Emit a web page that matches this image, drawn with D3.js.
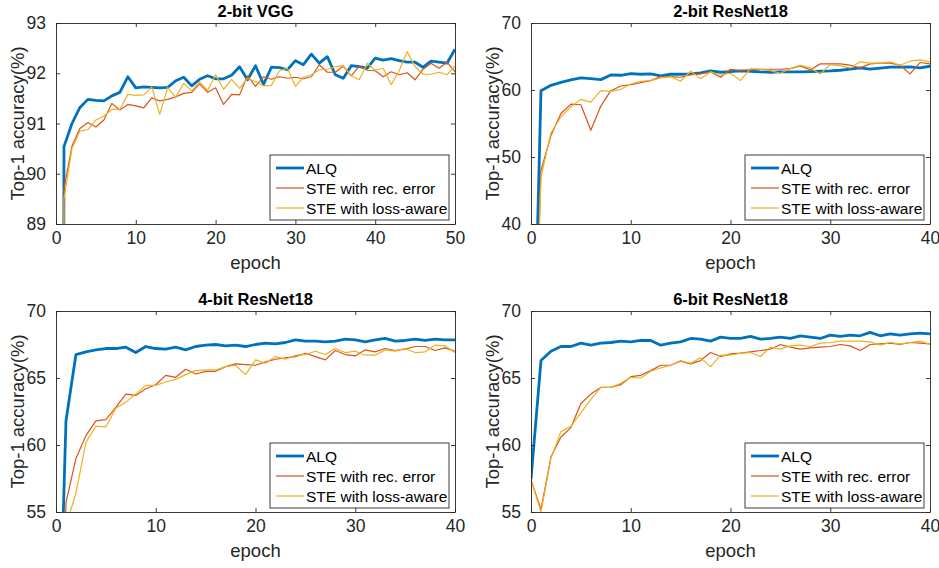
<!DOCTYPE html>
<html>
<head>
<meta charset="utf-8">
<script src="https://cdn.jsdelivr.net/npm/d3@7"></script>
<style>
html,body{margin:0;padding:0;background:#fff;}
svg{display:block;font-family:"Liberation Sans",Arial,Helvetica,sans-serif;}
</style>
</head>
<body>
<svg id="chart" width="939" height="568"></svg>
<script>
// ---------------- data ----------------
const seriesNames = ["ALQ", "STE with rec. error", "STE with loss-aware"];
const seriesColors = ["#0072BD", "#D95319", "#EDB120"];

const titles = ["2-bit VGG", "2-bit ResNet18", "4-bit ResNet18", "6-bit ResNet18"];
const xMaxes = [50, 40, 40, 40];
const yDomains = [[89, 93], [40, 70], [55, 70], [55, 70]];
const xTickVals = [[0,10,20,30,40,50],[0,10,20,30,40],[0,10,20,30,40],[0,10,20,30,40]];
const yTickVals = [[89,90,91,92,93],[40,50,60,70],[55,60,65,70],[55,60,65,70]];

// panel 1: 2-bit VGG (epochs 0..50)
const vggALQ = [10,90.54,91.0,91.32,91.48,91.46,91.45,91.55,91.62,91.93,91.71,91.73,91.72,91.71,91.72,91.85,91.92,91.75,91.88,91.95,91.89,91.89,91.96,92.13,91.87,92.15,91.78,92.12,92.11,92.07,92.25,92.17,92.38,92.2,92.33,91.97,91.9,92.15,92.13,92.1,92.3,92.26,92.29,92.25,92.22,92.22,92.12,92.24,92.22,92.2,92.48];
const vggRec = [10,89.7,90.55,90.9,91.02,90.93,91.07,91.4,91.27,91.38,91.35,91.31,91.51,91.45,91.48,91.53,91.6,91.62,91.79,91.62,91.71,91.38,91.58,91.57,91.95,91.74,91.93,91.88,91.93,91.9,91.92,91.89,91.93,92.17,92.02,92.02,92.14,91.95,92.14,92.06,92.05,91.93,92.03,91.97,92.01,91.87,92.08,92.2,92.1,92.22,92.03];
const vggLoss = [10,89.5,90.5,90.85,90.88,91.07,91.15,91.28,91.28,91.58,91.56,91.57,91.73,91.18,91.72,91.52,91.8,91.65,91.83,91.66,91.97,91.68,91.88,91.7,91.9,91.83,91.75,91.76,92.05,92.1,91.74,91.92,91.97,92.07,92.08,92.13,92.15,91.95,91.87,92.2,92.06,92.1,91.77,92.05,92.43,92.13,91.98,91.98,92.02,91.97,92.15];

// panel 2: 2-bit ResNet18 (epochs 0..40)
const r2ALQ = [0.1,59.9,60.7,61.15,61.5,61.8,61.7,61.55,62.25,62.2,62.45,62.35,62.4,62.1,62.35,62.35,62.4,62.55,62.85,62.65,62.75,62.85,62.8,62.7,62.65,62.7,62.7,62.7,62.75,62.8,62.85,62.95,63.1,63.3,63.1,63.25,63.4,63.4,63.45,63.3,63.55];
const r2Rec = [0.1,48.0,53.2,56.5,57.9,57.8,54.0,57.6,59.9,60.6,60.8,61.1,61.4,62.0,62.0,61.9,62.3,62.4,62.7,61.9,63.1,62.9,63.0,63.1,63.1,63.1,63.2,63.6,63.0,63.9,63.9,63.9,63.7,63.3,63.9,64.0,64.0,63.7,62.4,64.1,63.9];
const r2Loss = [0.1,47.0,53.6,56.0,57.5,58.6,58.2,59.9,59.8,60.1,60.9,61.3,61.4,61.8,62.0,61.3,62.8,61.7,62.7,62.2,62.5,61.4,63.2,63.1,62.9,62.5,63.2,63.7,63.3,62.4,63.8,63.6,63.3,64.2,64.0,64.0,64.2,63.7,64.3,64.5,64.2];

// panel 3: 4-bit ResNet18 (epochs 0..40)
const r4ALQ = [36,61.8,66.75,66.95,67.1,67.2,67.2,67.3,66.9,67.35,67.2,67.15,67.3,67.1,67.35,67.45,67.5,67.4,67.45,67.35,67.5,67.6,67.55,67.65,67.85,67.75,67.75,67.7,67.75,67.9,67.85,67.7,67.85,67.95,67.75,67.8,67.9,67.8,67.9,67.85,67.85];
const r4Rec = [30,55.7,59.0,60.7,61.8,61.9,62.8,63.8,63.7,64.2,64.5,65.2,65.05,65.65,65.3,65.5,65.5,65.85,66.05,66.0,65.95,66.2,66.4,66.5,66.6,66.85,66.6,66.35,67.05,66.75,66.65,67.1,66.95,67.2,67.05,67.15,67.35,67.35,67.05,67.25,67.0];
const r4Loss = [30,54.0,56.4,60.2,61.4,61.35,62.75,63.2,63.8,64.45,64.45,64.7,64.9,65.25,65.55,65.6,65.6,65.85,65.95,65.25,66.35,66.1,66.6,66.4,66.7,66.75,67.0,66.75,67.2,66.9,67.0,66.7,66.7,67.1,67.0,67.2,66.9,66.95,67.45,67.4,66.9];

// panel 4: 6-bit ResNet18 (epochs 0..40)
const r6ALQ = [57.45,66.3,67.0,67.35,67.35,67.6,67.45,67.6,67.65,67.75,67.7,67.8,67.8,67.45,67.6,67.7,67.95,67.9,67.75,68.05,67.95,67.95,68.1,67.9,67.95,68.05,67.95,68.15,68.05,67.95,68.2,68.1,68.2,68.15,68.4,68.15,68.3,68.2,68.3,68.35,68.3];
const r6Rec = [57.4,55.2,59.1,60.6,61.3,63.1,63.8,64.3,64.3,64.5,65.1,65.2,65.55,65.95,65.95,66.25,66.05,66.3,66.9,66.6,66.8,66.85,66.95,67.05,67.15,67.5,67.3,67.15,67.25,67.3,67.35,67.5,67.4,67.05,67.5,67.55,67.6,67.5,67.65,67.6,67.55];
const r6Loss = [57.4,55.0,59.0,61.0,61.4,62.4,63.4,64.3,64.3,64.6,65.05,65.0,65.5,65.75,65.95,66.3,66.1,66.5,65.85,66.7,66.7,66.85,66.9,66.6,67.3,67.15,67.4,67.45,67.35,67.6,67.65,67.75,67.75,67.75,67.7,67.45,67.65,67.55,67.65,67.75,67.5];

const panelSeries = [
  [vggALQ, vggRec, vggLoss],
  [r2ALQ, r2Rec, r2Loss],
  [r4ALQ, r4Rec, r4Loss],
  [r6ALQ, r6Rec, r6Loss]
];

// ---------------- layout ----------------
const boxes = [
  {x0:56, x1:455, y0:23, y1:224},
  {x0:531, x1:930, y0:23, y1:224},
  {x0:56, x1:455, y0:311, y1:512},
  {x0:531, x1:930, y0:311, y1:512}
];
const textColor = "#262626";
const axisColor = "#262626";
const lineWidths = [2.8, 1.2, 1.2];

const svg = d3.select("#chart");
const defs = svg.append("defs");

boxes.forEach((b, i) => {
  const x = d3.scaleLinear().domain([0, xMaxes[i]]).range([b.x0, b.x1]);
  const y = d3.scaleLinear().domain(yDomains[i]).range([b.y1, b.y0]);
  const g = svg.append("g");

  defs.append("clipPath").attr("id", "clip" + i)
    .append("rect").attr("x", b.x0).attr("y", b.y0)
    .attr("width", b.x1 - b.x0).attr("height", b.y1 - b.y0);

  const lineGen = d3.line().x((d, j) => x(j)).y(d => y(d));
  const plotG = g.append("g").attr("clip-path", "url(#clip" + i + ")");
  panelSeries[i].forEach((vals, s) => {
    plotG.append("path")
      .datum(vals)
      .attr("fill", "none")
      .attr("stroke", seriesColors[s])
      .attr("stroke-width", lineWidths[s])
      .attr("stroke-linejoin", "round")
      .attr("d", lineGen);
  });

  // axes
  const tl = 4;
  const fmt = d3.format("d");
  const xAxisB = d3.axisBottom(x).tickValues(xTickVals[i]).tickFormat(fmt).tickSizeInner(-tl).tickSizeOuter(0).tickPadding(8);
  const xAxisT = d3.axisTop(x).tickValues(xTickVals[i]).tickSizeInner(-tl).tickSizeOuter(0).tickFormat("");
  const yAxisL = d3.axisLeft(y).tickValues(yTickVals[i]).tickFormat(fmt).tickSizeInner(-tl).tickSizeOuter(0).tickPadding(10);
  const yAxisR = d3.axisRight(y).tickValues(yTickVals[i]).tickSizeInner(-tl).tickSizeOuter(0).tickFormat("");

  const axG = [
    g.append("g").attr("transform", `translate(0,${b.y1})`).call(xAxisB),
    g.append("g").attr("transform", `translate(0,${b.y0})`).call(xAxisT),
    g.append("g").attr("transform", `translate(${b.x0},0)`).call(yAxisL),
    g.append("g").attr("transform", `translate(${b.x1},0)`).call(yAxisR)
  ];
  axG.forEach(a => {
    a.select(".domain").attr("stroke", axisColor).attr("stroke-width", 0.9);
    a.selectAll(".tick line").attr("stroke", axisColor).attr("stroke-width", 0.9);
    a.selectAll("text").attr("fill", textColor).style("font-size", "17.5px")
      .style("font-family", '"Liberation Sans",Arial,sans-serif');
  });

  // title
  g.append("text")
    .attr("x", (b.x0 + b.x1) / 2).attr("y", b.y0 - 6)
    .attr("text-anchor", "middle")
    .attr("fill", "#000")
    .style("font-size", "16.5px").style("font-weight", "bold")
    .text(titles[i]);

  // x label
  g.append("text")
    .attr("x", (b.x0 + b.x1) / 2).attr("y", b.y1 + 45)
    .attr("text-anchor", "middle")
    .attr("fill", textColor)
    .style("font-size", "18.5px")
    .text("epoch");

  // y label
  g.append("text")
    .attr("transform", `translate(${b.x0 - 32},${(b.y0 + b.y1) / 2}) rotate(-90)`)
    .attr("text-anchor", "middle")
    .attr("fill", textColor)
    .style("font-size", "18.5px")
    .text("Top-1 accuracy(%)");

  // legend
  const lw = 179, lh = 65;
  const lx = b.x1 - 6 - lw, ly = b.y0 + 132;
  const lg = g.append("g").attr("transform", `translate(${lx},${ly})`);
  lg.append("rect").attr("width", lw).attr("height", lh)
    .attr("fill", "#fff").attr("stroke", axisColor).attr("stroke-width", 0.9);
  seriesNames.forEach((name, s) => {
    const cy = 13 + s * 20;
    lg.append("line").attr("x1", 6).attr("x2", 34).attr("y1", cy).attr("y2", cy)
      .attr("stroke", seriesColors[s]).attr("stroke-width", lineWidths[s]);
    lg.append("text").attr("x", 36).attr("y", cy).attr("dy", "0.36em")
      .attr("fill", "#000")
      .style("font-size", "15.5px")
      .text(name);
  });
});
</script>
</body>
</html>
